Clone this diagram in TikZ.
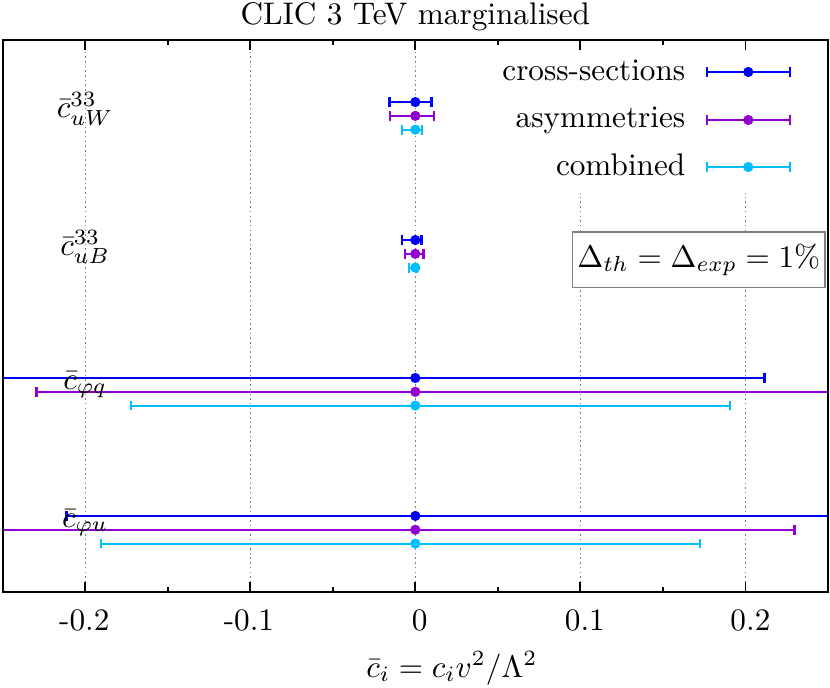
\documentclass[tikz,border=0pt]{standalone}
\usepackage{amsmath}
\usepackage{xcolor}
\usetikzlibrary{arrows.meta}
\definecolor{xsblue}{RGB}{0,0,255}
\definecolor{asympurple}{RGB}{148,0,211}
\definecolor{combcyan}{RGB}{0,191,255}

\begin{document}
\begin{tikzpicture}[x=18.58cm,y=1.5528cm,
    xsec/.style={xsblue,line width=0.8pt},
    asym/.style={asympurple,line width=0.7pt},
    comb/.style={combcyan,line width=0.65pt},
    capped/.style={arrows={Bar[width=0.11cm]-Bar[width=0.11cm]}},
    leftcap/.style={arrows={Bar[width=0.11cm]-}},
    rightcap/.style={arrows={-Bar[width=0.11cm]}},
    dot/.style={circle,inner sep=0pt,minimum size=0.115cm},
    gridline/.style={gray,line width=0.4pt,dash pattern=on 0.5pt off 1pt}]
    \useasboundingbox (-0.2516,-0.691) rectangle (0.2512,4.290);

    % grid
    \draw[gridline] (-0.2,0) -- (-0.2,4);
    \draw[gridline] (-0.1,0) -- (-0.1,4);
    \draw[gridline] (0,0) -- (0,4);
    \draw[gridline] (0.1,0) -- (0.1,4);
    \draw[gridline] (0.2,0) -- (0.2,4);

    % legend background and settings box
    \fill[white] (0.045,2.89) rectangle (0.25,4);
    \node[draw=gray,fill=white,line width=0.5pt,minimum width=2.84cm,minimum height=0.62cm,inner sep=0pt] (dbox) at (0.1717,2.4065) {$\Delta_{th} = \Delta_{exp} = 1\%$};

    % c_uW
    \draw[xsec,capped] (-0.0165,3.55) -- (0.0107,3.55);
    \draw[asym,capped] (-0.0159,3.45) -- (0.0118,3.45);
    \draw[comb,capped] (-0.0084,3.35) -- (0.0044,3.35);
    \node[dot,fill=xsblue] (uWxs) at (0,3.55) {};
    \node[dot,fill=asympurple] (uWas) at (0,3.45) {};
    \node[dot,fill=combcyan] (uWcb) at (0,3.35) {};

    % c_uB
    \draw[xsec,capped] (-0.0089,2.55) -- (0.0044,2.55);
    \draw[asym,capped] (-0.0068,2.45) -- (0.0056,2.45);
    \draw[comb,capped] (-0.0045,2.35) -- (0.0015,2.35);
    \node[dot,fill=xsblue] (uBxs) at (0,2.55) {};
    \node[dot,fill=asympurple] (uBas) at (0,2.45) {};
    \node[dot,fill=combcyan] (uBcb) at (0,2.35) {};

    % c_phiq
    \draw[xsec,rightcap] (-0.25,1.55) -- (0.2124,1.55);
    \draw[asym,leftcap] (-0.2302,1.45) -- (0.25,1.45);
    \draw[comb,capped] (-0.1726,1.35) -- (0.1910,1.35);
    \node[dot,fill=xsblue] (phiqxs) at (0,1.55) {};
    \node[dot,fill=asympurple] (phiqas) at (0,1.45) {};
    \node[dot,fill=combcyan] (phiqcb) at (0,1.35) {};

    % c_phiu
    \draw[xsec,leftcap] (-0.2120,0.55) -- (0.25,0.55);
    \draw[asym,rightcap] (-0.25,0.45) -- (0.2304,0.45);
    \draw[comb,capped] (-0.1908,0.35) -- (0.1728,0.35);
    \node[dot,fill=xsblue] (phiuxs) at (0,0.55) {};
    \node[dot,fill=asympurple] (phiuas) at (0,0.45) {};
    \node[dot,fill=combcyan] (phiucb) at (0,0.35) {};

    % legend
    \node[anchor=base east,inner sep=0pt] (legxs) at (0.1639,3.703) {cross-sections};
    \draw[xsec,capped] (0.1759,3.768) -- (0.2276,3.768);
    \node[dot,fill=xsblue] (legxsdot) at (0.2017,3.768) {};
    \node[anchor=base east,inner sep=0pt] (legas) at (0.1639,3.363) {asymmetries};
    \draw[asym,capped] (0.1759,3.420) -- (0.2276,3.420);
    \node[dot,fill=asympurple] (legasdot) at (0.2017,3.420) {};
    \node[anchor=base east,inner sep=0pt] (legcb) at (0.1639,3.021) {combined};
    \draw[comb,capped] (0.1759,3.079) -- (0.2276,3.079);
    \node[dot,fill=combcyan] (legcbdot) at (0.2017,3.079) {};

    % frame and ticks
    \draw[line width=0.6pt] (-0.25,0) rectangle (0.25,4);
    \foreach \t in {-0.2,-0.1,0,0.1,0.2} {
        \draw[line width=0.6pt] (\t,0) -- ++(0,0.113cm);
        \draw[line width=0.6pt] (\t,4) -- ++(0,-0.113cm);
    }
    \foreach \t in {-0.15,-0.05,0.05,0.15} {
        \draw[line width=0.6pt] (\t,0) -- ++(0,0.056cm);
        \draw[line width=0.6pt] (\t,4) -- ++(0,-0.056cm);
    }

    % tick labels
    \node[anchor=base] (tkm2) at (-0.2005,-0.283) {-0.2};
    \node[anchor=base] (tkm1) at (-0.1008,-0.283) {-0.1};
    \node[anchor=base] (tk0) at (0.0027,-0.283) {0};
    \node[anchor=base] (tkp1) at (0.1027,-0.283) {0.1};
    \node[anchor=base] (tkp2) at (0.2030,-0.283) {0.2};

    % coefficient labels
    \node (uW) at (-0.2,3.5) {$\bar{c}^{33}_{uW}$};
    \node (uB) at (-0.2,2.5) {$\bar{c}^{33}_{uB}$};
    \node (phiq) at (-0.2,1.5) {$\bar{c}_{\varphi q}$};
    \node (phiu) at (-0.2,0.5) {$\bar{c}_{\varphi u}$};

    % title and axis label
    \node[anchor=base] (title) at (0,4.109) {CLIC 3 TeV marginalised};
    \node[anchor=base] (xlabel) at (0.0221,-0.619) {$\bar{c}_i = c_i v^2/\Lambda^2$};
\end{tikzpicture}
\end{document}
